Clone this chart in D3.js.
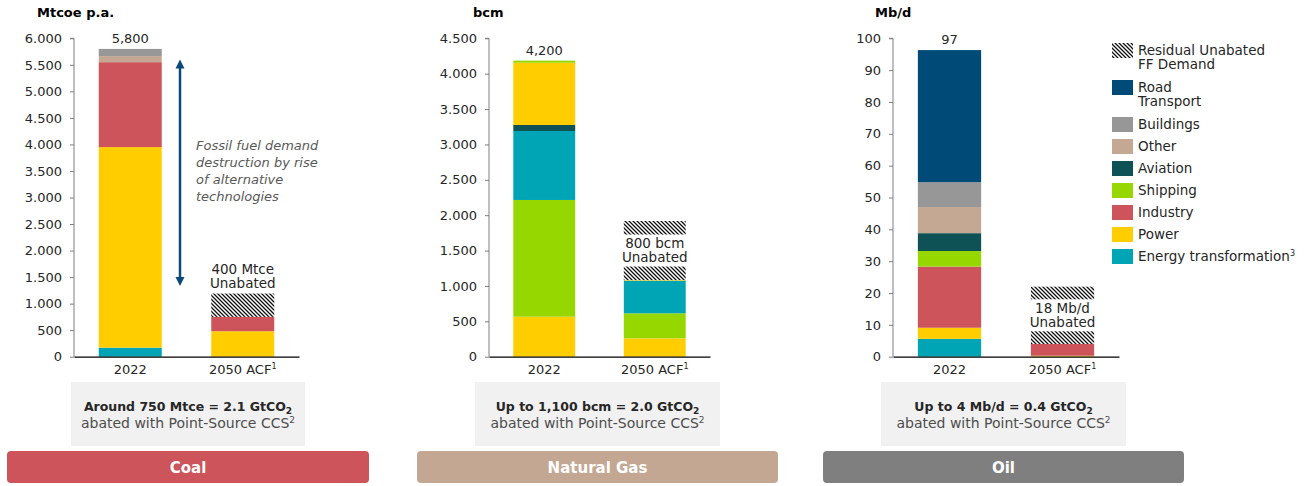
<!DOCTYPE html>
<html><head><meta charset="utf-8">
<script src="https://cdn.jsdelivr.net/npm/d3@7"></script>
<style>
body{margin:0;background:#fff;}
svg{display:block;font-family:"DejaVu Sans",sans-serif;}
</style></head>
<body><svg id="c" width="1308" height="486"></svg>
<script>
// ---------- DATA ----------
const barNames = ["2022", "2050 ACF"];
const legendItems = ["Residual Unabated FF Demand","Road Transport","Buildings","Other","Aviation","Shipping","Industry","Power","Energy transformation"];
const colorMap = {"Road Transport":"#004a77","Buildings":"#979797","Other":"#c4a893","Aviation":"#0e5256","Shipping":"#97d700","Industry":"#cd545b","Power":"#ffcd00","Energy transformation":"#00a5b5"};

const coalTicks = [0,500,1000,1500,2000,2500,3000,3500,4000,4500,5000,5500,6000];
const coal2022 = [["Energy transformation",170],["Power",3780],["Industry",1600],["Other",115],["Buildings",135]];
const coal2050 = [["Power",480],["Industry",270]];
const coalResidual = 440;

const gasTicks = [0,500,1000,1500,2000,2500,3000,3500,4000,4500];
const gas2022 = [["Power",565],["Shipping",1650],["Energy transformation",975],["Aviation",85],["Power",880],["Shipping",30]];
const gas2050 = [["Power",260],["Shipping",353],["Energy transformation",462],["Power",8]];
const gasResidual = 835;

const oilTicks = [0,10,20,30,40,50,60,70,80,90,100];
const oil2022 = [["Energy transformation",5.6],["Power",3.5],["Industry",19.2],["Shipping",4.9],["Aviation",5.6],["Other",8.2],["Buildings",7.8],["Road Transport",41.5]];
const oil2050 = [["Power",0.3],["Industry",3.7]];
const oilResidual = 18;

const totals = ["5,800","4,200","97"];
const units = ["Mtcoe p.a.","bcm","Mb/d"];
const residualLabels = ["400 Mtce","800 bcm","18 Mb/d"];
const boxLine1 = [["Around 750 Mtce = 2.1 GtCO","2"],["Up to 1,100 bcm = 2.0 GtCO","2"],["Up to 4 Mb/d = 0.4 GtCO","2"]];
const boxLine2 = "abated with Point-Source CCS";
const fuels = ["Coal","Natural Gas","Oil"];
const fuelColors = ["#cd545b","#c4a792","#7f7f7f"];
const arrowSpan = [5600, 1330];
const arrowText = ["Fossil fuel demand","destruction by rise","of alternative","technologies"];

// ---------- DRAW ----------
const svg = d3.select("#c");
const txt = "#262626";
const defs = svg.append("defs");
const pat = defs.append("pattern").attr("id","hatch").attr("patternUnits","userSpaceOnUse")
  .attr("width",4).attr("height",4);
pat.append("rect").attr("width",4).attr("height",4).attr("fill","#fff");
pat.append("path").attr("d","M-1,-1 L5,5 M3,-1 L5,1 M-1,3 L1,5").attr("stroke","#111").attr("stroke-width",1.3);

const panels = [
  {x0:74, x1:299, max:6000, ticks:coalTicks, fmt:d3.format(",.0f"), bars:[coal2022,coal2050], resid:coalResidual, labelAbove:true, unitX:37, box:[71,305], fuelBar:[7,369]},
  {x0:489, x1:710, max:4500, ticks:gasTicks, fmt:d3.format(",.0f"), bars:[gas2022,gas2050], resid:gasResidual, labelAbove:false, unitX:473, box:[475,720], fuelBar:[417,778]},
  {x0:893, x1:1119, max:100, ticks:oilTicks, fmt:d3.format("d"), bars:[oil2022,oil2050], resid:oilResidual, labelAbove:false, unitX:875, box:[881,1126], fuelBar:[823,1184]}
];
const yTop = 38.3, yBot = 356.7;

panels.forEach((p,i)=>{
  const g = svg.append("g");
  const y = d3.scaleLinear().domain([0,p.max]).range([yBot,yTop]);
  const x = d3.scaleBand().domain(barNames).range([p.x0,p.x1]).paddingInner(0.44).paddingOuter(0.22);

  g.append("text").attr("x",p.unitX).attr("y",17).attr("font-weight","bold").attr("font-size",13)
    .attr("fill","#000").text(units[i]);

  p.bars.forEach((segs,bi)=>{
    let acc = 0;
    segs.forEach(([cat,v])=>{
      g.append("rect").attr("x",x(barNames[bi])).attr("width",x.bandwidth())
        .attr("y",y(acc+v)).attr("height",y(acc)-y(acc+v)).attr("fill",colorMap[cat]);
      acc += v;
    });
    if(bi===0){
      g.append("text").attr("x",x(barNames[bi])+x.bandwidth()/2).attr("y",y(acc)-6)
        .attr("text-anchor","middle").attr("font-size",13).attr("fill",txt).text(totals[i]);
    } else {
      const top = acc + p.resid;
      g.append("rect").attr("x",x(barNames[bi])).attr("width",x.bandwidth())
        .attr("y",y(top)).attr("height",y(acc)-y(top)).attr("fill","url(#hatch)");
      const cx = x(barNames[bi])+x.bandwidth()/2;
      const cy = p.labelAbove ? y(top)-17 : (y(acc)+y(top))/2;
      g.append("rect").attr("x",x(barNames[bi])-6).attr("width",x.bandwidth()+12)
        .attr("y",cy-16).attr("height",32).attr("fill","#fff");
      g.append("text").attr("x",cx).attr("y",cy-7+4.5).attr("text-anchor","middle").attr("font-size",13.5).attr("fill",txt).text(residualLabels[i]);
      g.append("text").attr("x",cx).attr("y",cy+7+4.5).attr("text-anchor","middle").attr("font-size",13.5).attr("fill",txt).text("Unabated");
    }
  });

  const ya = g.append("g").attr("transform",`translate(${p.x0},0)`)
    .call(d3.axisLeft(y).tickValues(p.ticks).tickSize(4).tickPadding(8).tickFormat(d=>p.fmt(d).replace(/,/g,".")));
  ya.select(".domain").attr("stroke","#7f7f7f").attr("d",`M-4,${yTop}H0V${yBot}`);
  ya.selectAll(".tick line").attr("stroke","#7f7f7f");
  ya.selectAll("text").attr("font-size",13).attr("fill",txt).attr("font-family","DejaVu Sans");

  const xa = g.append("g").attr("transform",`translate(0,${yBot})`)
    .call(d3.axisBottom(x).tickSize(0).tickPadding(8));
  xa.select(".domain").attr("stroke","#000").attr("stroke-width",1.2);
  xa.selectAll("text").attr("font-size",13).attr("fill",txt).attr("font-family","DejaVu Sans")
    .each(function(d){
      if(d==="2050 ACF"){ d3.select(this).append("tspan").attr("font-size",8).attr("dy","-0.6em").text("1"); }
    });

  const bx = p.box;
  g.append("rect").attr("x",bx[0]).attr("y",382).attr("width",bx[1]-bx[0]).attr("height",64).attr("fill","#f1f1f1");
  const cxb = (bx[0]+bx[1])/2;
  const t1 = g.append("text").attr("x",cxb).attr("y",411).attr("text-anchor","middle").attr("font-size",12.5)
    .attr("font-weight","bold").attr("fill",txt);
  t1.append("tspan").text(boxLine1[i][0]);
  t1.append("tspan").attr("font-size",9).attr("dy",3).text(boxLine1[i][1]);
  const t2 = g.append("text").attr("x",cxb).attr("y",428).attr("text-anchor","middle").attr("font-size",14).attr("fill","#4d4d4d");
  t2.append("tspan").text(boxLine2);
  t2.append("tspan").attr("font-size",9).attr("dy",-5).text("2");

  const fb = p.fuelBar;
  g.append("rect").attr("x",fb[0]).attr("y",451).attr("width",fb[1]-fb[0]).attr("height",32).attr("rx",4).attr("fill",fuelColors[i]);
  g.append("text").attr("x",(fb[0]+fb[1])/2).attr("y",472.5).attr("text-anchor","middle").attr("font-size",15)
    .attr("font-weight","bold").attr("fill","#fff").text(fuels[i]);

  if(i===0){
    const ax = 180;
    const a = y(arrowSpan[0]), b = y(arrowSpan[1]);
    g.append("line").attr("x1",ax).attr("x2",ax).attr("y1",a+6).attr("y2",b-6).attr("stroke","#0b4a78").attr("stroke-width",2.5);
    g.append("path").attr("d",`M${ax},${a} L${ax-4.5},${a+9} L${ax+4.5},${a+9}Z`).attr("fill","#0b4a78");
    g.append("path").attr("d",`M${ax},${b} L${ax-4.5},${b-9} L${ax+4.5},${b-9}Z`).attr("fill","#0b4a78");
    arrowText.forEach((s,k)=>{
      g.append("text").attr("x",196).attr("y",149.5+k*17).attr("font-size",13).attr("font-style","italic")
        .attr("fill","#595959").text(s);
    });
  }
});

const legLines = {"Residual Unabated FF Demand":["Residual Unabated","FF Demand"],"Road Transport":["Road","Transport"]};
const legY = [43,80,117,139,161,183,205,227,249];
const lg = svg.append("g");
legendItems.forEach((name,k)=>{
  const yy = legY[k];
  lg.append("rect").attr("x",1112).attr("y",yy).attr("width",21).attr("height",15)
    .attr("fill", name.startsWith("Residual") ? "url(#hatch)" : colorMap[name]);
  const lines = legLines[name] || [name];
  lines.forEach((s,j)=>{
    const t = lg.append("text").attr("x",1138).attr("y",yy+12+j*14).attr("font-size",13.5).attr("fill",txt).text(s);
    if(name==="Energy transformation") t.append("tspan").attr("font-size",8).attr("dy",-5).text("3");
  });
});
</script></body></html>
